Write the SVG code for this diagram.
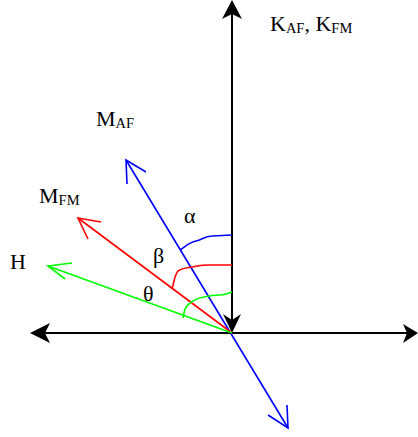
<svg xmlns="http://www.w3.org/2000/svg" width="418" height="437" viewBox="0 0 418 437">
<style>
.ax{stroke:#000;stroke-width:2;fill:none}
.head{fill:#000;stroke:none}
.b{stroke:#0000ff;stroke-width:1.6;fill:none}
.r{stroke:#ff0000;stroke-width:1.6;fill:none}
.g{stroke:#00ff00;stroke-width:1.6;fill:none}
text{font-family:"Liberation Serif","Times New Roman",serif;fill:#000}
.lb{font-size:22px}
.sub{font-size:14.5px}
</style>
<rect width="418" height="437" fill="#fff"/>
<g id="connectors">
  <g id="axis-vertical">
    <line class="ax" x1="232" y1="6" x2="232" y2="326"/>
    <path class="head" d="M232,0 L242,19 L232,14 L222,19 Z"/>
    <path class="head" d="M232,333 L241,314 L232,320 L223,314 Z"/>
  </g>
  <g id="axis-horizontal">
    <line class="ax" x1="36" y1="333" x2="412" y2="333"/>
    <path class="head" d="M30,333 L50,323 L45,333 L50,343 Z"/>
    <path class="head" d="M418,333 L403,324 L407,333 L403,343 Z"/>
  </g>
  <g id="vec-MAF">
    <line class="b" x1="126" y1="160" x2="288" y2="428"/>
    <polyline class="b" points="127,184 126,160 146,172"/>
    <polyline class="b" points="268,415 288,428 287,405"/>
  </g>
  <g id="vec-MFM">
    <line class="r" x1="78" y1="218" x2="232" y2="333"/>
    <polyline class="r" points="88,239 78,218 101,222"/>
  </g>
  <g id="vec-H">
    <line class="g" x1="48" y1="266" x2="232" y2="333"/>
    <polyline class="g" points="72,263 48,266 65,279"/>
  </g>
  <g id="angles">
    <path class="b" d="M180,250 C186,246 190,242 196,241 C202,240 204,236 212,236 L232,235"/>
    <path class="r" d="M172,289 C174,282 175,274 178,271 C182,268 186,268 192,267 C198,266 200,265 210,265 L232,265"/>
    <path class="g" d="M183,318 C184,312 185,306 190,303 C194,300 198,298 204,297 C208,296 212,295 220,295 C226,295 229,293 232,292"/>
  </g>
</g>
<g id="label-K"><text class="lb" x="270" y="31">K<tspan class="sub" dy="2">AF</tspan><tspan dy="-2">, K</tspan><tspan class="sub" dy="2">FM</tspan></text></g>
<g id="label-MAF"><text class="lb" x="96" y="126">M<tspan class="sub" dy="2">AF</tspan></text></g>
<g id="label-MFM"><text class="lb" x="39" y="203">M<tspan class="sub" dy="2">FM</tspan></text></g>
<g id="label-H"><text class="lb" x="10" y="269">H</text></g>
<g id="label-alpha"><text class="lb" x="184" y="223">α</text></g>
<g id="label-beta"><text class="lb" x="153" y="263">β</text></g>
<g id="label-theta"><text class="lb" x="143" y="301">θ</text></g>
</svg>
